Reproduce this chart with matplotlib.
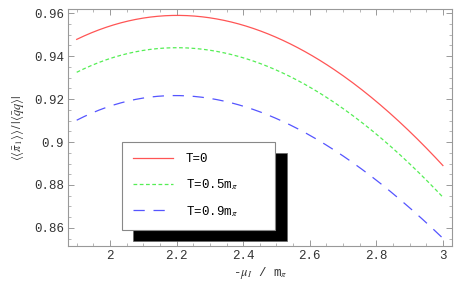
import numpy as np
import matplotlib
matplotlib.use("Agg")
import matplotlib.pyplot as plt
from matplotlib.patches import Rectangle
from matplotlib.ticker import MultipleLocator

# ratio vs -mu_I / m_pi for three temperatures
mu = [1.9, 2.0, 2.1, 2.2, 2.3, 2.4, 2.5, 2.6, 2.7, 2.8, 2.9, 3.0]
ratio_T0 = [0.9485, 0.9535, 0.957, 0.9588, 0.958, 0.9548, 0.949, 0.942, 0.9305, 0.918, 0.904, 0.890]
ratio_T05 = [0.933, 0.9385, 0.942, 0.9439, 0.943, 0.9395, 0.934, 0.926, 0.915, 0.903, 0.890, 0.8746]
ratio_T09 = [0.9107, 0.916, 0.920, 0.9219, 0.9208, 0.917, 0.911, 0.903, 0.893, 0.882, 0.870, 0.855]
labels = ["T=0", r"T=0.5m$_\pi$", r"T=0.9m$_\pi$"]

mono = "Liberation Mono"
frame_col = "#999999"
plt.rcParams["mathtext.fontset"] = "stix"

fig = plt.figure(figsize=(4.63, 2.85), dpi=100)
ax = fig.add_axes([0.147, 0.137, 0.829, 0.831])

# smooth the curves a bit with a cubic through the read points
def smooth(x, y):
    c = np.polyfit(x, y, 3)
    xs = np.linspace(x[0], x[-1], 200)
    return xs, np.polyval(c, xs)

x, y = smooth(mu, ratio_T0)
l1, = ax.plot(x, y, color="#ff5555", lw=0.9, ls="-")
x, y = smooth(mu, ratio_T05)
l2, = ax.plot(x, y, color="#55ee55", lw=0.9, ls=(0, (3, 2)))
x, y = smooth(mu, ratio_T09)
l3, = ax.plot(x, y, color="#5555ff", lw=0.9, ls=(0, (9, 7)))

ax.set_xlim(1.874, 3.027)
ax.set_ylim(0.8516, 0.9619)
ax.xaxis.set_major_locator(MultipleLocator(0.2))
ax.xaxis.set_minor_locator(MultipleLocator(0.05))
ax.yaxis.set_major_locator(MultipleLocator(0.02))
ax.yaxis.set_minor_locator(MultipleLocator(0.005))
ax.xaxis.set_major_formatter(plt.FuncFormatter(lambda v, p: f"{v:g}"))
ax.yaxis.set_major_formatter(plt.FuncFormatter(lambda v, p: f"{v:g}"))

ax.tick_params(which="both", direction="in", top=True, right=True, color=frame_col)
ax.tick_params(which="major", length=4, width=0.7, labelsize=9, labelcolor="#333333", pad=3)
ax.tick_params(which="minor", length=2, width=0.5)
for lab in ax.get_xticklabels() + ax.get_yticklabels():
    lab.set_family(mono)
for s in ax.spines.values():
    s.set_color(frame_col)
    s.set_linewidth(0.8)

ax.set_xlabel(r"-$\mu_I$ / m$_\pi$", fontsize=9, family=mono, color="#333333", labelpad=2)
ax.set_ylabel(r"$\langle\langle\bar{\pi}_1\rangle\rangle\,/\,|\langle\bar{q}q\rangle|$",
              fontsize=9, color="#333333", labelpad=6)

# legend with a hard black shadow
W, H = 463.0, 285.0
fig.patches.append(Rectangle((133 / W, 1 - 241 / H), 154 / W, 88 / H,
                             transform=fig.transFigure, facecolor="black",
                             edgecolor="#666666", lw=0.5, zorder=5))
leg = fig.legend([l1, l2, l3], labels, loc="upper left",
                 bbox_to_anchor=(122 / W, 1 - 230 / H, 153 / W, 88 / H),
                 mode="expand", frameon=True, fancybox=False, framealpha=1,
                 borderaxespad=0, borderpad=0.9, handlelength=3.2,
                 handletextpad=1.0, labelspacing=0.95,
                 prop={"family": mono, "size": 9})
leg.get_frame().set_edgecolor("#888888")
leg.get_frame().set_linewidth(0.8)
leg.set_zorder(6)

fig.savefig("out.png", dpi=100)
